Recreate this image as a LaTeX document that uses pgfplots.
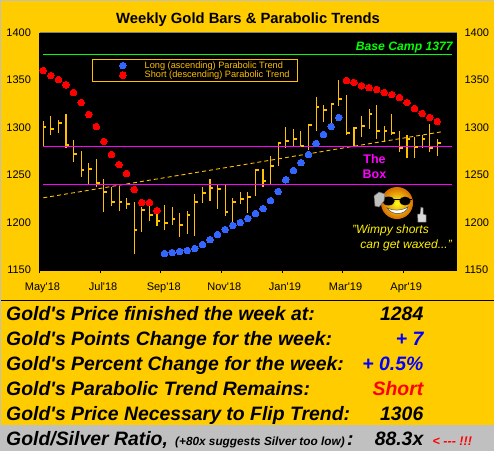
\documentclass[border=0pt]{standalone}
\usepackage{fontspec}
\setmainfont{Liberation Sans}
\newfontfamily\plainsans{Liberation Sans}
\usepackage{pgfplots}
\usepackage{pgfplotstable}
\pgfplotsset{compat=1.18}
\definecolor{goldbg}{HTML}{FFCC00}
\definecolor{bargold}{HTML}{FFC000}
\definecolor{bandgray}{HTML}{C0C0C0}
\definecolor{basegreen}{HTML}{00FF00}
\definecolor{boxpink}{HTML}{FF00FF}
\definecolor{longblue}{HTML}{3366FF}
\definecolor{shortred}{HTML}{FF0000}
\definecolor{valblue}{HTML}{0000FF}
\pgfdeclareplotmark{closetick}{%
  \pgfsetlinewidth{2pt}\pgfsetbuttcap
  \pgfpathmoveto{\pgfpoint{0pt}{0pt}}%
  \pgfpathlineto{\pgfpoint{3.2pt}{0pt}}%
  \pgfusepathqstroke}

% i low high close
\pgfplotstableread{
i l h c
0 1281 1307 1301
1 1292 1311.6 1298
2 1294 1308 1304.5
3 1278 1313.7 1282
4 1263.5 1287 1272
5 1247.7 1275 1255
6 1239 1263 1256
7 1237 1267 1242
8 1211.5 1246 1232.6
9 1217 1237 1222
10 1212.6 1238 1222
11 1213.7 1226 1220
12 1167 1222 1192.6
13 1189.5 1216 1213
14 1202 1222 1208
15 1196 1213.7 1202
16 1192.6 1218 1199
17 1197 1216 1204
18 1185 1209.5 1197
19 1188.4 1212.6 1208
20 1186 1230.5 1222
21 1221 1237 1231
22 1223 1246 1236
23 1213.7 1240 1235
24 1207 1239 1211
25 1196 1226 1222
26 1219 1231.6 1224.5
27 1210.5 1231.6 1227
28 1227.4 1255.5 1255.5
29 1237 1256.8 1243.5
30 1240 1270.5 1259
31 1260 1285 1283.5
32 1278 1301 1286.3
33 1280 1298 1288.4
34 1280 1296.8 1281
35 1275.8 1304 1303
36 1296.8 1331.6 1322
37 1306.3 1324 1318
38 1305 1326.3 1325
39 1323 1349.5 1330.5
40 1291.6 1334.7 1294.7
41 1281 1301 1299
42 1290.5 1311.6 1302
43 1298 1320 1313.7
44 1288.4 1324 1296.8
45 1285 1302 1295.8
46 1292.6 1314.7 1293.7
47 1273.7 1295.8 1278
48 1268.4 1291.6 1288.4
49 1267.4 1289.5 1280
50 1278 1292.6 1287.4
51 1274.7 1304 1278
52 1269.5 1287.4 1284
}\goldbars

\pgfplotstableread{
i v
16 1167.4
17 1168.4
18 1169.5
19 1170.5
20 1172.6
21 1176.8
22 1182
23 1187.4
24 1192.6
25 1196.8
26 1200
27 1204.2
28 1209.5
29 1214.7
30 1223
31 1232.6
32 1245
33 1254.7
34 1263
35 1271.6
36 1283.2
37 1292.6
38 1301
39 1310.5
}\longtrend

\pgfplotstableread{
i v
0 1360
1 1354.7
2 1350.5
3 1345
4 1336.8
5 1326.3
6 1313.7
7 1301
8 1285.3
9 1271.6
10 1261
11 1251.6
12 1234.7
13 1221
14 1221
15 1212.6
40 1349.5
41 1347.4
42 1344
43 1342
44 1340
45 1336.8
46 1334.7
47 1331.6
48 1326.3
49 1320
50 1314.7
51 1310.5
52 1306.3
}\shorttrend

\begin{document}
\begin{tikzpicture}
\begin{scope}[x=1pt,y=-1pt,yshift=451pt]
\path[use as bounding box] (0,0) rectangle (494,451);
\fill[goldbg] (0,0) rectangle (494,451);
\fill[bandgray] (0,0) rectangle (494,1);
\fill[bandgray] (0,0) rectangle (1,451);
\fill[bandgray] (1,425) rectangle (494,451);
\draw[black,line width=0.8pt] (1,300.5) -- (494,300.5);
\end{scope}

\begin{axis}[
    at={(39.5pt,181pt)}, anchor=south west,
    scale only axis, width=417.5pt, height=237.5pt,
    xmin=-0.5, xmax=54.6, ymin=1150, ymax=1400,
    axis background/.style={fill=black},
    axis x line*=bottom, axis y line*=left,
    axis line style={black,line width=0.8pt},
    xtick={-0.5,7.5,15.5,23.5,31.5,39.5,47.5},
    xticklabels={May'18,Jul'18,Sep'18,Nov'18,Jan'19,Mar'19,Apr'19},
    x tick label style={font=\plainsans\fontsize{11}{12}\selectfont,xshift=3pt,yshift=-5pt,text height=8.5pt,text depth=2.5pt},
    ytick={1150,1200,1250,1300,1350,1400},
    y tick label style={font=\fontsize{11}{12}\selectfont,xshift=-2pt},
    /pgf/number format/1000 sep={},
    /pgf/number format/assume math mode=true,
    tick align=outside,
    major tick length=3pt,
    ytick style={draw=none},
    xtick style={black,line width=0.8pt},
    legend style={
        at={(0.1257,0.888)}, anchor=north west,
        fill=black, draw=bargold, line width=0.8pt, text=bargold,
        font=\fontsize{9.2}{10}\selectfont,
        inner xsep=2.5pt, inner ysep=0pt, row sep=-2.5pt,
    },
    legend cell align=left,
    legend image code/.code={
        \path (-27.5pt,0pt) (19.5pt,0pt);
        \draw[#1] plot coordinates {(0pt,0pt)};
    },
    clip=false,
]
% weekly bars: high-low stem, close tick to the right
\addplot[only marks, mark=closetick, color=bargold, forget plot,
    error bars/.cd, y dir=both, y explicit, error mark=none,
    error bar style={bargold,line width=1.1pt}]
    table[x=i,y=c,y error plus expr=\thisrow{h}-\thisrow{c},y error minus expr=\thisrow{c}-\thisrow{l}] {\goldbars};
% trend line and levels
\addplot[bargold, line width=0.9pt, dash pattern=on 4pt off 3pt, forget plot]
    coordinates {(0,1226) (13,1243.2) (27.3,1262) (40,1279) (52.6,1295.5)};
\addplot[boxpink, line width=1pt, forget plot] coordinates {(0,1280) (53.9,1280)};
\addplot[boxpink, line width=1pt, forget plot] coordinates {(0,1240) (53.9,1240)};
\addplot[basegreen, line width=1pt, forget plot] coordinates {(0,1377) (53.9,1377)};
% parabolic trends
\addplot[only marks, mark=*, mark size=3.3pt, color=longblue, mark options={fill=longblue,draw=longblue,line width=0pt}]
    table[x=i,y=v] {\longtrend};
\addlegendentry{Long (ascending) Parabolic Trend}
\addplot[only marks, mark=*, mark size=3.3pt, color=shortred, mark options={fill=shortred,draw=shortred,line width=0pt}]
    table[x=i,y=v] {\shorttrend};
\addlegendentry{Short (descending) Parabolic Trend\hspace*{3pt}}
\end{axis}

% same scale on the right
\begin{axis}[
    at={(39.5pt,181pt)}, anchor=south west,
    scale only axis, width=417.5pt, height=237.5pt,
    xmin=-0.5, xmax=54.6, ymin=1150, ymax=1400,
    hide x axis,
    axis y line*=right,
    axis line style={draw=none},
    ytick={1150,1200,1250,1300,1350,1400},
    y tick label style={font=\fontsize{11}{12}\selectfont,xshift=4pt},
    /pgf/number format/1000 sep={},
    /pgf/number format/assume math mode=true,
    ytick style={draw=none},
    major tick length=3pt,
]
\addplot[draw=none, forget plot] coordinates {(0,1150) (52,1400)};
\end{axis}

\begin{scope}[x=1pt,y=-1pt,yshift=451pt]
% top edge of the plot
\draw[gray,line width=0.8pt] (39.5,32.5) -- (457,32.5);
% title
\node[anchor=base,inner sep=0pt,font=\fontsize{14.8}{16}\bfseries] at (248,24) {Weekly Gold Bars \& Parabolic Trends};
% annotations
\node[anchor=base east,inner sep=0pt,text=basegreen,font=\fontsize{12.2}{15}\bfseries\itshape] at (453,51) {Base Camp 1377};
\node[anchor=base,inner sep=0pt,text=boxpink,font=\fontsize{12.5}{14}\bfseries] at (374.5,163) {The};
\node[anchor=base,inner sep=0pt,text=boxpink,font=\fontsize{12.5}{14}\bfseries] at (374.5,178) {Box};
\node[anchor=base west,inner sep=0pt,text=yellow,font=\fontsize{12}{14}\itshape] at (352,233) {"Wimpy shorts};
\node[anchor=base east,inner sep=0pt,text=yellow,font=\fontsize{12}{14}\itshape] at (452,248) {can get waxed..."};
% smiley
\shade[inner color=yellow!90!white, outer color=orange!85!black] (397,203) circle (16);
\fill[black] (388.5,201) ellipse (6.2 and 4.4);
\fill[black] (405,201) ellipse (5.6 and 4.4);
\draw[black,line width=1pt] (381,199) -- (412,199);
\fill[white,draw=black!70,line width=0.5pt] (387,208) .. controls (393,211) and (401,211) .. (408,207) .. controls (406,215) and (392,216) .. (387,208) -- cycle;
\fill[black!25,draw=black!60,line width=0.5pt] (374,196) -- (379,192) -- (385,194) -- (384,201) -- (379,207) -- (375,206) -- cycle;
\fill[black!15,draw=black!60,line width=0.5pt] (417.5,214) -- (420,214) -- (421,207) -- (423,208) -- (423,214) -- (426,215) -- (426,222) -- (418,222) -- cycle;
% summary block
\def\rowfont{\plainsans\fontsize{19.4}{20}\bfseries\itshape}
\node[anchor=base west,inner sep=0pt,font=\rowfont] at (6,320) {Gold's Price finished the week at:};
\node[anchor=base east,inner sep=0pt,font=\rowfont] at (423.5,320) {1284};
\node[anchor=base west,inner sep=0pt,font=\rowfont] at (6,345) {Gold's Points Change for the week:};
\node[anchor=base east,inner sep=0pt,font=\rowfont,text=valblue] at (423.5,345) {+ 7};
\node[anchor=base west,inner sep=0pt,font=\rowfont] at (6,370) {Gold's Percent Change for the week:};
\node[anchor=base east,inner sep=0pt,font=\rowfont,text=valblue] at (423.5,370) {+ 0.5\%};
\node[anchor=base west,inner sep=0pt,font=\rowfont] at (6,395) {Gold's Parabolic Trend Remains:};
\node[anchor=base east,inner sep=0pt,font=\rowfont,text=shortred] at (423.5,395) {Short};
\node[anchor=base west,inner sep=0pt,font=\rowfont] at (6,420) {Gold's Price Necessary to Flip Trend:};
\node[anchor=base east,inner sep=0pt,font=\rowfont] at (423.5,420) {1306};
\node[anchor=base west,inner sep=0pt,font=\rowfont] at (6,445) {Gold/Silver Ratio,};
\node[anchor=base west,inner sep=0pt,font=\fontsize{11.8}{12}\bfseries\itshape] at (175,445) {(+80x suggests Silver too low)};
\node[anchor=base west,inner sep=0pt,font=\rowfont] at (347,445) {:};
\node[anchor=base east,inner sep=0pt,font=\rowfont] at (423.5,445) {88.3x};
\node[anchor=base west,inner sep=0pt,text=shortred,font=\fontsize{12.5}{14}\bfseries\itshape] at (432.5,445) {< -{}-{}- !!!};
\end{scope}
\end{tikzpicture}
\end{document}
